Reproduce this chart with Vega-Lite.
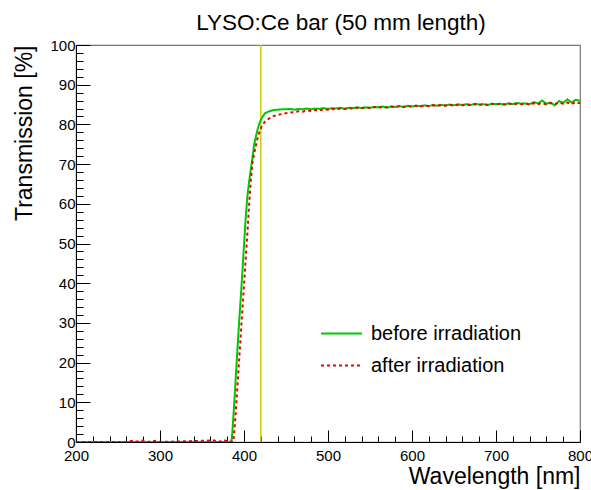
{
  "$schema": "https://vega.github.io/schema/vega-lite/v6.json",
  "width": 504,
  "height": 397,
  "autosize": {"type": "none"},
  "padding": {"left": 76, "top": 45, "right": 11, "bottom": 48},
  "background": "white",
  "config": {
    "font": "Liberation Sans",
    "view": {"stroke": "#777777", "strokeWidth": 1.2},
    "axis": {"grid": false, "zindex": 1, "domainColor": "black", "tickColor": "black", "labelColor": "black", "titleColor": "black", "labelFont": "Liberation Sans", "titleFont": "Liberation Sans", "titleFontWeight": "normal", "labelFontSize": 15, "titleFontSize": 23}
  },
  "title": {"text": "LYSO:Ce bar (50 mm length)", "fontSize": 22.5, "font": "Liberation Sans", "fontWeight": "normal", "color": "black", "anchor": "middle", "offset": 17, "dx": 13, "dy": 31, "baseline": "alphabetic"},
  "datasets": {
    "spectra": [
      {"s": "before irradiation", "wl": 200, "t": 0},
      {"s": "before irradiation", "wl": 260, "t": 0},
      {"s": "before irradiation", "wl": 300, "t": 0},
      {"s": "before irradiation", "wl": 340, "t": 0},
      {"s": "before irradiation", "wl": 385, "t": 0},
      {"s": "before irradiation", "wl": 386, "t": 2},
      {"s": "before irradiation", "wl": 388, "t": 8.5},
      {"s": "before irradiation", "wl": 390, "t": 15.5},
      {"s": "before irradiation", "wl": 392, "t": 22.7},
      {"s": "before irradiation", "wl": 394, "t": 29.5},
      {"s": "before irradiation", "wl": 396, "t": 36},
      {"s": "before irradiation", "wl": 398, "t": 42.5},
      {"s": "before irradiation", "wl": 400, "t": 49.5},
      {"s": "before irradiation", "wl": 402, "t": 56.5},
      {"s": "before irradiation", "wl": 404, "t": 61.8},
      {"s": "before irradiation", "wl": 406, "t": 65.5},
      {"s": "before irradiation", "wl": 408, "t": 68.5},
      {"s": "before irradiation", "wl": 410, "t": 71.5},
      {"s": "before irradiation", "wl": 412, "t": 74.8},
      {"s": "before irradiation", "wl": 414, "t": 76.8},
      {"s": "before irradiation", "wl": 416, "t": 78.6},
      {"s": "before irradiation", "wl": 418, "t": 80.0},
      {"s": "before irradiation", "wl": 420, "t": 81.1},
      {"s": "before irradiation", "wl": 422, "t": 81.9},
      {"s": "before irradiation", "wl": 425, "t": 82.8},
      {"s": "before irradiation", "wl": 430, "t": 83.3},
      {"s": "before irradiation", "wl": 435, "t": 83.6},
      {"s": "before irradiation", "wl": 440, "t": 83.7},
      {"s": "before irradiation", "wl": 445, "t": 83.8},
      {"s": "before irradiation", "wl": 450, "t": 83.8},
      {"s": "before irradiation", "wl": 455, "t": 83.9},
      {"s": "before irradiation", "wl": 460, "t": 83.7},
      {"s": "before irradiation", "wl": 465, "t": 83.9},
      {"s": "before irradiation", "wl": 470, "t": 83.8},
      {"s": "before irradiation", "wl": 475, "t": 84.0},
      {"s": "before irradiation", "wl": 480, "t": 83.8},
      {"s": "before irradiation", "wl": 485, "t": 84.0},
      {"s": "before irradiation", "wl": 490, "t": 83.9},
      {"s": "before irradiation", "wl": 495, "t": 84.1},
      {"s": "before irradiation", "wl": 500, "t": 83.9},
      {"s": "before irradiation", "wl": 505, "t": 84.1},
      {"s": "before irradiation", "wl": 510, "t": 84.0},
      {"s": "before irradiation", "wl": 515, "t": 84.2},
      {"s": "before irradiation", "wl": 520, "t": 83.9},
      {"s": "before irradiation", "wl": 525, "t": 84.2},
      {"s": "before irradiation", "wl": 530, "t": 84.1},
      {"s": "before irradiation", "wl": 535, "t": 84.3},
      {"s": "before irradiation", "wl": 540, "t": 84.1},
      {"s": "before irradiation", "wl": 545, "t": 84.3},
      {"s": "before irradiation", "wl": 550, "t": 84.2},
      {"s": "before irradiation", "wl": 555, "t": 84.4},
      {"s": "before irradiation", "wl": 560, "t": 84.3},
      {"s": "before irradiation", "wl": 565, "t": 84.5},
      {"s": "before irradiation", "wl": 570, "t": 84.2},
      {"s": "before irradiation", "wl": 575, "t": 84.5},
      {"s": "before irradiation", "wl": 580, "t": 84.4},
      {"s": "before irradiation", "wl": 585, "t": 84.6},
      {"s": "before irradiation", "wl": 590, "t": 84.4},
      {"s": "before irradiation", "wl": 595, "t": 84.7},
      {"s": "before irradiation", "wl": 600, "t": 84.5},
      {"s": "before irradiation", "wl": 605, "t": 84.7},
      {"s": "before irradiation", "wl": 610, "t": 84.6},
      {"s": "before irradiation", "wl": 615, "t": 84.8},
      {"s": "before irradiation", "wl": 620, "t": 84.6},
      {"s": "before irradiation", "wl": 625, "t": 84.9},
      {"s": "before irradiation", "wl": 630, "t": 84.7},
      {"s": "before irradiation", "wl": 635, "t": 84.9},
      {"s": "before irradiation", "wl": 640, "t": 84.8},
      {"s": "before irradiation", "wl": 645, "t": 85.0},
      {"s": "before irradiation", "wl": 650, "t": 84.8},
      {"s": "before irradiation", "wl": 655, "t": 85.0},
      {"s": "before irradiation", "wl": 660, "t": 84.9},
      {"s": "before irradiation", "wl": 665, "t": 85.1},
      {"s": "before irradiation", "wl": 670, "t": 84.9},
      {"s": "before irradiation", "wl": 675, "t": 85.2},
      {"s": "before irradiation", "wl": 680, "t": 85.0},
      {"s": "before irradiation", "wl": 685, "t": 85.1},
      {"s": "before irradiation", "wl": 690, "t": 84.9},
      {"s": "before irradiation", "wl": 695, "t": 85.2},
      {"s": "before irradiation", "wl": 700, "t": 85.1},
      {"s": "before irradiation", "wl": 705, "t": 85.2},
      {"s": "before irradiation", "wl": 710, "t": 85.0},
      {"s": "before irradiation", "wl": 715, "t": 85.3},
      {"s": "before irradiation", "wl": 720, "t": 85.1},
      {"s": "before irradiation", "wl": 725, "t": 85.4},
      {"s": "before irradiation", "wl": 730, "t": 85.2},
      {"s": "before irradiation", "wl": 735, "t": 85.3},
      {"s": "before irradiation", "wl": 740, "t": 85.1},
      {"s": "before irradiation", "wl": 745, "t": 85.6},
      {"s": "before irradiation", "wl": 750, "t": 85.3},
      {"s": "before irradiation", "wl": 755, "t": 86.0},
      {"s": "before irradiation", "wl": 760, "t": 85.2},
      {"s": "before irradiation", "wl": 765, "t": 85.5},
      {"s": "before irradiation", "wl": 770, "t": 84.8},
      {"s": "before irradiation", "wl": 775, "t": 85.9},
      {"s": "before irradiation", "wl": 780, "t": 85.4},
      {"s": "before irradiation", "wl": 785, "t": 86.3},
      {"s": "before irradiation", "wl": 790, "t": 85.5},
      {"s": "before irradiation", "wl": 795, "t": 86.2},
      {"s": "before irradiation", "wl": 800, "t": 85.9},
      {"s": "after irradiation", "wl": 200, "t": 0},
      {"s": "after irradiation", "wl": 262, "t": 0},
      {"s": "after irradiation", "wl": 266, "t": 0.3},
      {"s": "after irradiation", "wl": 270, "t": 0},
      {"s": "after irradiation", "wl": 280, "t": 0.4},
      {"s": "after irradiation", "wl": 285, "t": 0},
      {"s": "after irradiation", "wl": 295, "t": 0.3},
      {"s": "after irradiation", "wl": 300, "t": 0},
      {"s": "after irradiation", "wl": 365, "t": 0.4},
      {"s": "after irradiation", "wl": 370, "t": 0},
      {"s": "after irradiation", "wl": 375, "t": 0.5},
      {"s": "after irradiation", "wl": 380, "t": 0.2},
      {"s": "after irradiation", "wl": 387, "t": 0},
      {"s": "after irradiation", "wl": 388, "t": 1.5},
      {"s": "after irradiation", "wl": 390, "t": 7},
      {"s": "after irradiation", "wl": 392, "t": 13.5},
      {"s": "after irradiation", "wl": 394, "t": 20},
      {"s": "after irradiation", "wl": 396, "t": 26.5},
      {"s": "after irradiation", "wl": 398, "t": 33},
      {"s": "after irradiation", "wl": 400, "t": 39.5},
      {"s": "after irradiation", "wl": 402, "t": 46},
      {"s": "after irradiation", "wl": 404, "t": 52.5},
      {"s": "after irradiation", "wl": 406, "t": 59.5},
      {"s": "after irradiation", "wl": 408, "t": 65.5},
      {"s": "after irradiation", "wl": 410, "t": 70.3},
      {"s": "after irradiation", "wl": 412, "t": 72.6},
      {"s": "after irradiation", "wl": 414, "t": 74.5},
      {"s": "after irradiation", "wl": 416, "t": 76.4},
      {"s": "after irradiation", "wl": 418, "t": 77.9},
      {"s": "after irradiation", "wl": 420, "t": 79.0},
      {"s": "after irradiation", "wl": 422, "t": 79.9},
      {"s": "after irradiation", "wl": 425, "t": 80.7},
      {"s": "after irradiation", "wl": 430, "t": 81.5},
      {"s": "after irradiation", "wl": 435, "t": 82.1},
      {"s": "after irradiation", "wl": 440, "t": 82.4},
      {"s": "after irradiation", "wl": 445, "t": 82.6},
      {"s": "after irradiation", "wl": 450, "t": 82.8},
      {"s": "after irradiation", "wl": 455, "t": 83.0},
      {"s": "after irradiation", "wl": 460, "t": 83.1},
      {"s": "after irradiation", "wl": 465, "t": 83.3},
      {"s": "after irradiation", "wl": 470, "t": 83.2},
      {"s": "after irradiation", "wl": 475, "t": 83.5},
      {"s": "after irradiation", "wl": 480, "t": 83.4},
      {"s": "after irradiation", "wl": 485, "t": 83.6},
      {"s": "after irradiation", "wl": 490, "t": 83.5},
      {"s": "after irradiation", "wl": 495, "t": 83.8},
      {"s": "after irradiation", "wl": 500, "t": 83.7},
      {"s": "after irradiation", "wl": 505, "t": 83.9},
      {"s": "after irradiation", "wl": 510, "t": 83.8},
      {"s": "after irradiation", "wl": 515, "t": 84.0},
      {"s": "after irradiation", "wl": 520, "t": 83.9},
      {"s": "after irradiation", "wl": 525, "t": 84.1},
      {"s": "after irradiation", "wl": 530, "t": 84.0},
      {"s": "after irradiation", "wl": 535, "t": 84.2},
      {"s": "after irradiation", "wl": 540, "t": 84.1},
      {"s": "after irradiation", "wl": 545, "t": 84.3},
      {"s": "after irradiation", "wl": 550, "t": 84.1},
      {"s": "after irradiation", "wl": 555, "t": 84.4},
      {"s": "after irradiation", "wl": 560, "t": 84.2},
      {"s": "after irradiation", "wl": 565, "t": 84.4},
      {"s": "after irradiation", "wl": 570, "t": 84.3},
      {"s": "after irradiation", "wl": 575, "t": 84.5},
      {"s": "after irradiation", "wl": 580, "t": 84.3},
      {"s": "after irradiation", "wl": 585, "t": 84.6},
      {"s": "after irradiation", "wl": 590, "t": 84.4},
      {"s": "after irradiation", "wl": 595, "t": 84.6},
      {"s": "after irradiation", "wl": 600, "t": 84.5},
      {"s": "after irradiation", "wl": 605, "t": 84.7},
      {"s": "after irradiation", "wl": 610, "t": 84.5},
      {"s": "after irradiation", "wl": 615, "t": 84.8},
      {"s": "after irradiation", "wl": 620, "t": 84.6},
      {"s": "after irradiation", "wl": 625, "t": 84.8},
      {"s": "after irradiation", "wl": 630, "t": 84.7},
      {"s": "after irradiation", "wl": 635, "t": 84.9},
      {"s": "after irradiation", "wl": 640, "t": 84.7},
      {"s": "after irradiation", "wl": 645, "t": 84.9},
      {"s": "after irradiation", "wl": 650, "t": 84.8},
      {"s": "after irradiation", "wl": 655, "t": 85.0},
      {"s": "after irradiation", "wl": 660, "t": 84.8},
      {"s": "after irradiation", "wl": 665, "t": 85.0},
      {"s": "after irradiation", "wl": 670, "t": 84.9},
      {"s": "after irradiation", "wl": 675, "t": 85.1},
      {"s": "after irradiation", "wl": 680, "t": 84.9},
      {"s": "after irradiation", "wl": 685, "t": 85.1},
      {"s": "after irradiation", "wl": 690, "t": 84.9},
      {"s": "after irradiation", "wl": 695, "t": 85.2},
      {"s": "after irradiation", "wl": 700, "t": 85.0},
      {"s": "after irradiation", "wl": 705, "t": 85.2},
      {"s": "after irradiation", "wl": 710, "t": 85.0},
      {"s": "after irradiation", "wl": 715, "t": 85.3},
      {"s": "after irradiation", "wl": 720, "t": 85.0},
      {"s": "after irradiation", "wl": 725, "t": 85.2},
      {"s": "after irradiation", "wl": 730, "t": 85.1},
      {"s": "after irradiation", "wl": 735, "t": 85.3},
      {"s": "after irradiation", "wl": 740, "t": 85.0},
      {"s": "after irradiation", "wl": 745, "t": 85.3},
      {"s": "after irradiation", "wl": 750, "t": 85.1},
      {"s": "after irradiation", "wl": 755, "t": 85.4},
      {"s": "after irradiation", "wl": 760, "t": 85.0},
      {"s": "after irradiation", "wl": 765, "t": 85.4},
      {"s": "after irradiation", "wl": 770, "t": 85.1},
      {"s": "after irradiation", "wl": 775, "t": 85.5},
      {"s": "after irradiation", "wl": 780, "t": 85.2},
      {"s": "after irradiation", "wl": 785, "t": 85.5},
      {"s": "after irradiation", "wl": 790, "t": 85.1},
      {"s": "after irradiation", "wl": 795, "t": 85.6},
      {"s": "after irradiation", "wl": 800, "t": 85.3}
    ],
    "marker": [{"wl": 420}]
  },
  "layer": [
    {
      "data": {"name": "marker"},
      "mark": {"type": "rule", "color": "#cccc00", "strokeWidth": 1.5},
      "encoding": {
        "x": {
          "field": "wl", "type": "quantitative",
          "scale": {"domain": [200, 800], "nice": false},
          "axis": {
            "title": "Wavelength [nm]",
            "titleAnchor": "end",
            "titleAlign": "right",
            "titleBaseline": "alphabetic",
            "titleY": 41,
            "values": [200,220,240,260,280,300,320,340,360,380,400,420,440,460,480,500,520,540,560,580,600,620,640,660,680,700,720,740,760,780,800],
            "tickSize": {"condition": {"test": "datum.value % 100 === 0", "value": -12}, "value": -6},
            "labelExpr": "datum.value % 100 === 0 ? datum.label : ''",
            "labelOverlap": false,
            "labelFlush": false,
            "labelPadding": 18,
            "labelBaseline": "top"
          }
        }
      }
    },
    {
      "data": {"name": "spectra"},
      "mark": {"type": "line", "strokeWidth": 2, "clip": true, "interpolate": "linear"},
      "encoding": {
        "x": {
          "field": "wl", "type": "quantitative",
          "scale": {"domain": [200, 800], "nice": false},
          "axis": {
            "title": "Wavelength [nm]",
            "titleAnchor": "end",
            "titleAlign": "right",
            "titleBaseline": "alphabetic",
            "titleY": 41,
            "values": [200,220,240,260,280,300,320,340,360,380,400,420,440,460,480,500,520,540,560,580,600,620,640,660,680,700,720,740,760,780,800],
            "tickSize": {"condition": {"test": "datum.value % 100 === 0", "value": -12}, "value": -6},
            "labelExpr": "datum.value % 100 === 0 ? datum.label : ''",
            "labelOverlap": false,
            "labelFlush": false,
            "labelPadding": 18,
            "labelBaseline": "top"
          }
        },
        "y": {
          "field": "t", "type": "quantitative",
          "scale": {"domain": [0, 100], "nice": false},
          "axis": {
            "title": "Transmission [%]",
            "titleAnchor": "end",
            "titleAlign": "right",
            "titleBaseline": "alphabetic",
            "titleX": -45,
            "titleY": 0,
            "titleAngle": -90,
            "values": [0,2,4,6,8,10,12,14,16,18,20,22,24,26,28,30,32,34,36,38,40,42,44,46,48,50,52,54,56,58,60,62,64,66,68,70,72,74,76,78,80,82,84,86,88,90,92,94,96,98,100],
            "tickSize": {"condition": {"test": "datum.value % 10 === 0", "value": -14}, "value": -7},
            "labelExpr": "datum.value % 10 === 0 ? datum.label : ''",
            "labelOverlap": false,
            "labelFlush": false,
            "labelPadding": 15
          }
        },
        "color": {
          "field": "s", "type": "nominal",
          "scale": {"domain": ["before irradiation", "after irradiation"], "range": ["#00c800", "#ee0000"]},
          "legend": {
            "title": null,
            "orient": "none",
            "legendX": 244,
            "legendY": 267,
            "symbolType": "stroke",
            "symbolSize": 1681,
            "symbolStrokeWidth": 2,
            "labelFontSize": 20,
            "labelFont": "Liberation Sans",
            "labelColor": "black",
            "labelOffset": 8,
            "rowPadding": 0,
            "labelLimit": 300
          }
        },
        "strokeDash": {
          "field": "s", "type": "nominal",
          "scale": {"domain": ["before irradiation", "after irradiation"], "range": [[1, 0], [3, 3]]},
          "legend": {
            "title": null,
            "orient": "none",
            "legendX": 244,
            "legendY": 267,
            "symbolType": "stroke",
            "symbolSize": 1681,
            "symbolStrokeWidth": 2,
            "labelFontSize": 20,
            "labelFont": "Liberation Sans",
            "labelColor": "black",
            "labelOffset": 8,
            "rowPadding": 0,
            "labelLimit": 300
          }
        }
      }
    }
  ]
}
